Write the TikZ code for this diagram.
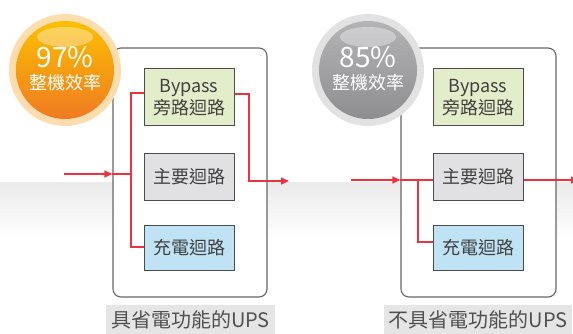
\documentclass[tikz,border=0pt]{standalone}
\usepackage{fontspec}
\setmainfont{Noto Sans CJK TC}
\usepackage{tikz}
\usetikzlibrary{shapes}
\usetikzlibrary{arrows.meta}
\usetikzlibrary{positioning}
\usetikzlibrary{calc}
\usetikzlibrary{shadings}
\definecolor{flowred}{HTML}{EE3340}
\definecolor{bypassgreen}{HTML}{E4EDC9}
\definecolor{maingray}{HTML}{E1E1E3}
\definecolor{chargeblue}{HTML}{BFE2F4}
\definecolor{textgray}{HTML}{404040}
\definecolor{tagtext}{HTML}{505050}
\definecolor{orangetop}{HTML}{FBC000}
\definecolor{orangebot}{HTML}{F07A22}
\definecolor{orangehalo}{HTML}{FDDDAE}
\definecolor{graytop}{HTML}{B4B4B6}
\definecolor{graybot}{HTML}{8E8E90}
\definecolor{grayhalo}{HTML}{E2E2E2}
\tikzstyle{upsbox}=[rectangle,draw=black!60,line width=1.1pt,rounded corners=8pt,fill=white,minimum height=249pt]
\tikzstyle{ckt}=[rectangle,draw=black!70,line width=1pt,minimum width=90pt,align=center,text=textgray,font=\fontsize{18}{22}\selectfont]
\tikzstyle{tag}=[rectangle,fill=black!10,text=tagtext,minimum height=30pt,inner xsep=5pt,font=\fontsize{20}{22}\selectfont]
\tikzstyle{flow}=[draw=flowred,line width=1.2pt]
\tikzstyle{pct}=[text=white,font=\fontsize{28}{30}\selectfont]
\tikzstyle{eff}=[text=white,font=\fontsize{18}{20}\selectfont]
\newcommand*{\effcircle}[6]{
%halo
\node[circle,fill=#3,minimum size=112pt,inner sep=0pt] (#1) at (#2) {};
%ball
\node[circle,top color=#4,bottom color=#5,minimum size=98pt,inner sep=0pt] (#1ball) at (#1) {};
%gloss
\fill[white,opacity=.35] ($(#1)+(0,-33)$) ellipse (28pt and 10pt);
%text
\node[pct] (#1pct) at ($(#1)+(0,-13)$) {#6\%};
\node[eff] (#1txt) at ($(#1)+(0,13)$) {整機效率};
}
\begin{document}
\begin{tikzpicture}[x=1pt,y=-1pt]
\clip (0,0) rectangle (573,334);
%background band
\shade[top color=black!8,bottom color=white] (0,182) rectangle (573,240);

%left ups
\node[upsbox,minimum width=154pt] (boxL) at (190,172.5) {};
\node[ckt,fill=bypassgreen,minimum height=57pt] (bypassL) at (189,97.5) {Bypass\\旁路迴路};
\node[ckt,fill=maingray,minimum height=46pt] (mainL) at (189,177) {主要迴路};
\node[ckt,fill=chargeblue,minimum height=45pt] (chargeL) at (189,247.5) {充電迴路};

\coordinate (inL) at (64,174);
\coordinate (topL) at (131,93);
\coordinate (botL) at (131,247);
\coordinate (outL) at (249,94);
\coordinate (endL) at (289,181);
\draw[flow,-{Triangle[length=8pt,width=7pt]}] (inL) -- (inL -| boxL.west);
\draw[flow] (inL -| boxL.west) -- (inL -| topL);
\draw[flow] (bypassL.west |- topL) -- (topL) -- (botL) -- (botL -| chargeL.west);
\draw[flow,-{Triangle[length=8pt,width=7pt]}] (bypassL.east |- outL) -- (outL) |- (endL);

%right ups
\node[upsbox,minimum width=155pt] (boxR) at (478.5,172.5) {};
\node[ckt,fill=bypassgreen,minimum height=57pt] (bypassR) at (478,97.5) {Bypass\\旁路迴路};
\node[ckt,fill=maingray,minimum height=46pt] (mainR) at (478,177) {主要迴路};
\node[ckt,fill=chargeblue,minimum height=45pt] (chargeR) at (478,247.5) {充電迴路};

\coordinate (inR) at (351,180);
\coordinate (jR) at (418,180);
\coordinate (botR) at (418,242);
\coordinate (outR) at (579,180);
\draw[flow,-{Triangle[length=8pt,width=7pt]}] (inR) -- (inR -| boxR.west);
\draw[flow] (inR -| boxR.west) -- (inR -| mainR.west);
\draw[flow] (jR) -- (botR) -- (botR -| chargeR.west);
\draw[flow,-{Triangle[length=8pt,width=7pt]}] (outR -| mainR.east) -- (outR);

%efficiency circles
\effcircle{effL}{65,70}{orangehalo}{orangetop}{orangebot}{97}
\effcircle{effR}{368,70}{grayhalo}{graytop}{graybot}{85}

%labels
\node[tag,minimum width=159pt] (tagL) at (190.5,320) {具省電功能的UPS};
\node[tag,minimum width=176pt] (tagR) at (478,320) {不具省電功能的UPS};
\end{tikzpicture}
\end{document}
